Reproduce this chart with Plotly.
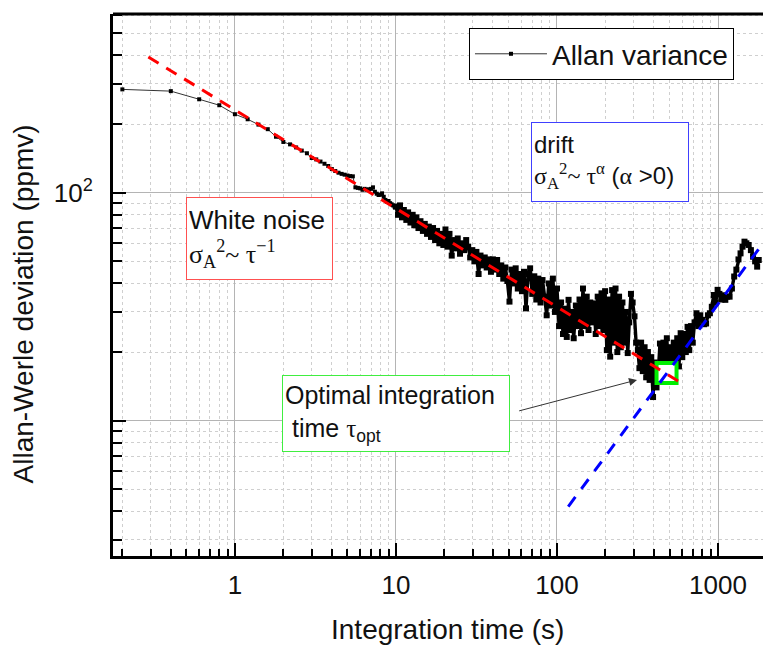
# Allan-Werle deviation plot (Origin style) rebuilt with plotly
import numpy as np
import plotly.graph_objects as go

# measured Allan deviation, read off the figure
# smooth part (short integration times)
tau_short = [0.2, 0.4, 0.6, 0.8, 1.0, 1.2, 1.4, 1.6, 1.8, 2.0, 2.2, 2.4, 2.6, 2.8, 3.0, 3.2, 3.4, 3.6, 3.8,
             4.0, 4.2, 4.4, 4.6, 4.8, 5.0, 5.2, 5.4, 5.6, 5.8, 6.0, 6.2, 6.4, 6.6, 6.8, 7.0, 7.2, 7.4, 7.6,
             7.8, 8.0, 8.2, 8.4, 8.6, 8.8, 9.0, 9.2, 9.4, 9.6, 9.8, 10.0]
adev_short = [284, 279, 257, 242, 221, 210, 199, 190, 176, 167, 163, 158, 153, 149, 142, 140, 137, 134, 131,
              127, 124.5, 122.4, 121, 120, 119, 118.3, 118, 105.6, 105, 104.5, 103, 104, 103, 103.5, 104, 105.6,
              101, 99, 97.7, 98, 99.4, 96, 93, 91.3, 92, 90, 89, 88, 87, 86.9]

# noisy part (long integration times)
tau_long = [10.0, 10.3, 10.6, 10.9, 11.2, 11.6, 11.9, 12.3, 12.7, 13.0, 13.4, 13.8, 14.2, 14.7, 15.1, 15.6,
            16.0, 16.5, 17.0, 17.5, 18.0, 18.6, 19.1, 19.7, 20.3,
            20.9, 21.5, 22.2, 22.8, 23.5, 24.2, 25.0, 25.7, 26.5, 27.3, 28.1, 28.9, 29.8, 30.7, 31.6, 32.6,
            33.5, 34.5, 35.6, 36.6, 37.7, 38.9, 40.0, 41.2, 42.5, 43.8, 45.1, 46.4, 47.8, 49.2,
            50.7, 52.2, 53.8, 55.4, 57.1, 58.8, 60.6, 62.4, 64.2, 66.2, 68.1, 70.2, 72.3, 74.4, 76.7, 79.0,
            81.3, 83.8, 86.3, 88.9, 91.5, 94.3, 97.1, 100.0,
            103, 106, 109, 112, 115, 118, 121, 124, 127, 131, 134, 138, 141, 145, 149, 153, 157, 161, 165,
            170, 174, 179, 184, 189, 194, 199,
            204, 209, 214, 220, 225, 231, 237, 243, 249, 255, 261, 268, 275, 281, 288, 295, 303, 310, 318,
            325, 333, 341, 350, 358, 367, 376, 385, 395, 405, 415,
            425, 436, 447, 458, 469, 481, 493, 505, 518, 531, 544, 558, 572, 586, 600, 615, 631, 647, 663,
            680, 697,
            715, 735, 755, 776, 798, 820, 843, 866, 890, 915, 941, 967, 994,
            1020, 1050, 1080, 1110, 1140, 1180, 1220, 1260, 1300, 1340, 1380, 1420, 1460, 1500, 1550, 1600,
            1650, 1700, 1750, 1790]
adev_long = [86.9, 80, 88, 78, 84, 76, 82, 74, 80, 72, 78, 70, 75, 68, 73, 66,
             71, 64, 70, 62, 68, 60, 66, 59, 69,
             58, 66, 53, 62, 57, 63, 54, 60, 56, 62, 58, 52, 56, 50, 55, 44,
             53, 48, 52, 47, 51, 45, 51, 46, 50.7, 44, 48, 42, 47, 41,
             33.3, 46, 40, 46.6, 38, 44, 37, 45, 31.1, 44, 46.6, 36, 43, 34, 42, 33,
             41.4, 35, 29, 40, 32, 42, 30, 38,
             26, 33, 24, 31, 23.3, 33.9, 25, 30, 23, 32, 26, 34, 24.2, 38, 26, 35, 25, 33, 27,
             32.7, 24, 35, 26, 36.2, 25, 37,
             20.4, 34, 19.1, 37.4, 22, 38, 20, 35, 21, 33, 22, 30, 19.8, 27, 36, 33, 28.7, 22, 20.4,
             17, 22, 16.5, 21, 15.5, 20, 15.1, 19, 12.7, 18, 14,
             16, 21.8, 15.5, 22, 16, 23, 16.5, 21, 17, 22, 18, 23, 17.3, 24.2, 19, 24, 20, 25.8, 20.4,
             26, 22,
             27, 29.6, 26, 29, 27.7, 26.5, 26.7, 29, 29.6, 31.6, 35.6, 33, 37.5,
             36, 34, 35.5, 33.9, 35, 35, 38, 42.9, 46, 51, 54.2, 58, 61, 60, 59, 56,
             52.4, 50, 47.4, 50.7]

# guide lines (white noise / drift) and the optimum
red_tau = [0.29, 595]
red_adev = [394, 14.6]
blue_tau = [117.5, 2400]
blue_adev = [4.2, 75]
opt_tau = [479]
opt_adev = [16.2]

# arrow tail/head (data units)
arrow_tail = (57, 11.0)
arrow_head = (314, 15.1)

x_major = [1, 10, 100, 1000]
x_labels = ["1", "10", "100", "1000"]
x_minor = [0.2, 0.3, 0.4, 0.5, 0.6, 0.7, 0.8, 0.9, 2, 3, 4, 5, 6, 7, 8, 9,
           20, 30, 40, 50, 60, 70, 80, 90, 200, 300, 400, 500, 600, 700, 800, 900, 2000]
y_major = [10, 100]
y_labels = [" ", "10<sup>2</sup>"]
y_minor = [3, 4, 5, 6, 7, 8, 9, 20, 30, 40, 50, 60, 70, 80, 90, 200, 300, 400, 500, 600]

FONT = "Liberation Sans, Arial, sans-serif"
SERIF = "Liberation Serif"

fig = go.Figure()

fig.add_trace(go.Scatter(
    x=tau_short, y=adev_short, mode='lines+markers', name='Allan variance',
    line=dict(color='#333333', width=1),
    marker=dict(symbol='square', size=4, color='black'),
))
fig.add_trace(go.Scatter(
    x=tau_long, y=adev_long, mode='lines+markers', showlegend=False,
    line=dict(color='black', width=3.4),
    marker=dict(symbol='square', size=6, color='black'),
))
fig.add_trace(go.Scatter(
    x=opt_tau, y=opt_adev, mode='markers', showlegend=False,
    marker=dict(symbol='square', size=20, color='white', line=dict(color='#00ee00', width=4)),
))
fig.add_trace(go.Scatter(
    x=red_tau, y=red_adev, mode='lines', showlegend=False,
    line=dict(color='#ff0000', width=3, dash='12px,9px'),
))
fig.add_trace(go.Scatter(
    x=blue_tau, y=blue_adev, mode='lines', showlegend=False,
    line=dict(color='#0000ff', width=3, dash='12px,10px'),
))

axis_common = dict(
    type='log', showline=True, linewidth=3, linecolor='black',
    ticks='inside', ticklen=13, tickwidth=2, tickcolor='black',
    showgrid=True, gridcolor='#b4b4b4', gridwidth=1,
    tickfont=dict(family=FONT, size=26, color='#111111'),
    zeroline=False, automargin=False,
)

fig.update_xaxes(
    **axis_common,
    range=[-0.757, 3.329],
    tickmode='array', tickvals=x_major, ticktext=x_labels,
    minor=dict(tickvals=x_minor, ticks='inside', ticklen=7, tickwidth=2, tickcolor='black',
               showgrid=True, gridcolor='#cfcfcf', griddash='3px,3px', gridwidth=1),
    ticklabelstandoff=4,
)
fig.update_yaxes(
    **axis_common,
    range=[0.4065, 2.784],
    tickmode='array', tickvals=y_major, ticktext=y_labels,
    minor=dict(tickvals=y_minor, ticks='inside', ticklen=9, tickwidth=2, tickcolor='black',
               showgrid=True, gridcolor='#cfcfcf', griddash='3px,3px', gridwidth=1),
    ticklabelstandoff=12,
)

annotations = [
    # axis titles
    dict(xref='paper', yref='paper', x=0.508, y=-0.1365, xanchor='center', yanchor='middle',
         showarrow=False, text='Integration time (s)',
         font=dict(family=FONT, size=28, color='#111111')),
    dict(xref='paper', yref='paper', x=-0.1368, y=0.466, xanchor='center', yanchor='middle',
         showarrow=False, textangle=-90, text='Allan-Werle deviation (ppmv)',
         font=dict(family=FONT, size=28, color='#111111')),
    # text boxes
    dict(xref='paper', yref='paper', x=0.2226, y=0.5858, xanchor='center', yanchor='middle',
         width=141, height=77, align='left', valign='middle',
         bordercolor='#ff5050', borderwidth=1, borderpad=2, bgcolor='white', showarrow=False,
         font=dict(family=FONT, size=26, color='#111111'),
         text=("White noise<br><span style='font-family:" + SERIF + "'>σ<sub>A</sub>"
               "<sup>2</sup>~ τ<sup>−1</sup></span>")),
    dict(xref='paper', yref='paper', x=0.7553, y=0.7269, xanchor='center', yanchor='middle',
         width=152, height=74, align='left', valign='middle',
         bordercolor='#4040ff', borderwidth=1, borderpad=2, bgcolor='white', showarrow=False,
         font=dict(family=FONT, size=24, color='#111111'),
         text=("drift<br><span style='font-family:" + SERIF + "'>σ<sub>A</sub><sup>2</sup>~ τ"
               "<sup>α</sup></span> (<span style='font-family:" + SERIF + "'>α</span> >0)")),
    dict(xref='paper', yref='paper', x=0.4301, y=0.2629, xanchor='center', yanchor='middle',
         width=222, height=71, align='left', valign='middle',
         bordercolor='#40ee40', borderwidth=1, borderpad=2, bgcolor='white', showarrow=False,
         font=dict(family=FONT, size=25, color='#111111'),
         text=("Optimal integration<br> time <span style='font-family:" + SERIF + "'>τ</span>"
               "<sub>opt</sub>")),
    dict(xref='x', yref='y', axref='x', ayref='y',
         x=np.log10(arrow_head[0]), y=np.log10(arrow_head[1]),
         ax=np.log10(arrow_tail[0]), ay=np.log10(arrow_tail[1]),
         text='', showarrow=True, arrowhead=2, arrowsize=1.6, arrowwidth=1, arrowcolor='#333333'),
]

# the page body adds an 8 px margin, so the figure is sized to end at the window edge
fig.update_layout(
    width=763, height=640,
    margin=dict(l=105, r=0, t=6, b=92),
    plot_bgcolor='white', paper_bgcolor='white',
    font=dict(family=FONT, color='#111111'),
    annotations=annotations,
    legend=dict(x=0.541, y=0.974, xanchor='left', yanchor='top',
                bordercolor='black', borderwidth=1, bgcolor='white',
                font=dict(family=FONT, size=28, color='#111111'),
                itemwidth=72, tracegroupgap=0),
    shapes=[dict(type='line', xref='paper', yref='paper', x0=0, x1=1, y0=1, y1=1,
                 line=dict(color='black', width=3))],
)

fig.write_html("out.html")
